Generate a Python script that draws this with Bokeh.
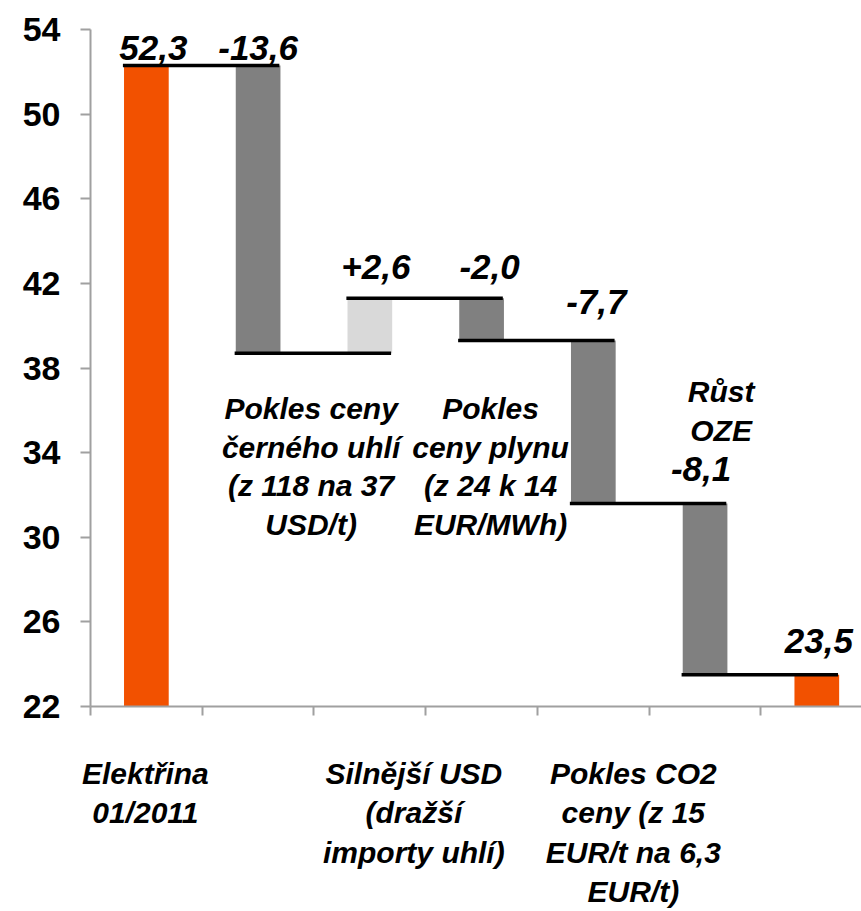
from bokeh.plotting import figure
from bokeh.models import Range1d, FixedTicker, Label
from bokeh.embed import file_html
from bokeh.resources import INLINE

# ---------------- data ----------------
categories = [
    "Elektřina\n01/2011",
    "Pokles ceny\nčerného uhlí\n(z 118 na 37\nUSD/t)",
    "Silnější USD\n(dražší\nimporty uhlí)",
    "Pokles\nceny plynu\n(z 24 k 14\nEUR/MWh)",
    "Pokles CO2\nceny (z 15\nEUR/t na 6,3\nEUR/t)",
    "Růst\nOZE",
    "",
]
values = [52.3, -13.6, 2.6, -2.0, -7.7, -8.1, 23.5]
is_total = [True, False, False, False, False, False, True]
value_labels = ["52,3", "-13,6", "+2,6", "-2,0", "-7,7", "-8,1", "23,5"]
y_ticks = [22, 26, 30, 34, 38, 42, 46, 50, 54]
x_bounds = [0, 1, 2, 3, 4, 5, 6, 7]

# ---------------- styles / layout ----------------
ORANGE = "#F25100"
DARK = "#808080"
LIGHT = "#D9D9D9"
AXIS_GREY = "#A0A0A0"
FONT = "Liberation Sans"
BASE = 22
PX_X = 771 / 6.9          # pixels per category
AXIS_PX = 709             # window y of the category axis

val_dx = [7, 0, 6, 8, 3, -4, 2]           # px
val_gap = [17, 17, 31, 31, 38, 34, 34]    # px above bar top
cat_dx = [-1, 53, 44, 9, 40, 16, 0]       # px
cat_below = [True, False, True, False, True, False, False]
cat_baseline = [0, 411, 0, 411, 0, 394, 0]  # window px for labels drawn inside the plot
LINE_SP = 38.5

# ---------------- computations ----------------
bottoms, tops, colors, ends = [], [], [], []
level = BASE
for v, tot in zip(values, is_total):
    if tot:
        b, t = BASE, v
        level = v
        c = ORANGE
    else:
        b, t = level, level + v
        level = level + v
        c = DARK if v < 0 else LIGHT
    bottoms.append(min(b, t))
    tops.append(max(b, t))
    colors.append(c)
    ends.append(level)

xs = [i + 0.5 for i in range(len(values))]

p = figure(width=861, height=911, x_range=Range1d(0, 6.9), y_range=Range1d(22, 54),
           output_backend="svg", toolbar_location=None,
           min_border_left=90, min_border_right=0, min_border_top=29, min_border_bottom=202)
p.outline_line_color = None
p.xgrid.visible = False
p.ygrid.visible = False

# category axis: minor ticks mark the category boundaries, labels of the lower row are its major labels
below_pos = [round(xs[i] + cat_dx[i] / PX_X, 3) for i in range(len(categories)) if cat_below[i]]
below_txt = [categories[i] for i in range(len(categories)) if cat_below[i]]
xa = p.xaxis[0]
xa.ticker = FixedTicker(ticks=below_pos, minor_ticks=x_bounds)
xa.major_label_overrides = {pos: txt for pos, txt in zip(below_pos, below_txt)}
xa.major_tick_line_color = None
xa.major_tick_out = 0
xa.major_tick_in = 0
xa.minor_tick_out = 9
xa.minor_tick_in = 0
xa.minor_tick_line_color = AXIS_GREY
xa.minor_tick_line_width = 2
xa.axis_line_color = AXIS_GREY
xa.axis_line_width = 2
xa.major_label_standoff = 41
xa.major_label_text_font = FONT
xa.major_label_text_font_style = "bold italic"
xa.major_label_text_font_size = "30px"
xa.major_label_text_line_height = 1.2
xa.major_label_text_color = "black"

ya = p.yaxis[0]
ya.ticker = FixedTicker(ticks=y_ticks)
ya.major_tick_out = 10
ya.major_tick_in = 0
ya.minor_tick_line_color = None
ya.axis_line_color = AXIS_GREY
ya.axis_line_width = 2
ya.major_tick_line_color = AXIS_GREY
ya.major_tick_line_width = 2
ya.major_label_text_font = FONT
ya.major_label_text_font_style = "bold"
ya.major_label_text_font_size = "34px"
ya.major_label_text_color = "black"
ya.major_label_standoff = 20

# bars
p.vbar(x=xs, width=0.4, bottom=bottoms, top=tops, fill_color=colors, line_color=None)

# connectors
cx0 = [i + 0.29 for i in range(len(values) - 1)]
cx1 = [i + 1.69 for i in range(len(values) - 1)]
cy = ends[:-1]
p.segment(x0=cx0, y0=cy, x1=cx1, y1=cy, line_color="black", line_width=3.5)

# value labels
for i, lab in enumerate(value_labels):
    p.add_layout(Label(x=xs[i], y=tops[i], x_offset=val_dx[i], y_offset=val_gap[i],
                       text=lab, text_align="center", text_baseline="alphabetic",
                       text_font=FONT, text_font_style="bold italic",
                       text_font_size="35px", text_color="black"))

# category labels drawn inside the plot area
for i, cat in enumerate(categories):
    if not cat or cat_below[i]:
        continue
    for j, line in enumerate(cat.split("\n")):
        base_px = cat_baseline[i] + j * LINE_SP
        p.add_layout(Label(x=xs[i], y=BASE, x_offset=cat_dx[i], y_offset=AXIS_PX - base_px,
                           text=line, text_align="center", text_baseline="alphabetic",
                           text_font=FONT, text_font_style="bold italic",
                           text_font_size="30px", text_color="black"))

open("out.html", "w").write(file_html(p, INLINE))
